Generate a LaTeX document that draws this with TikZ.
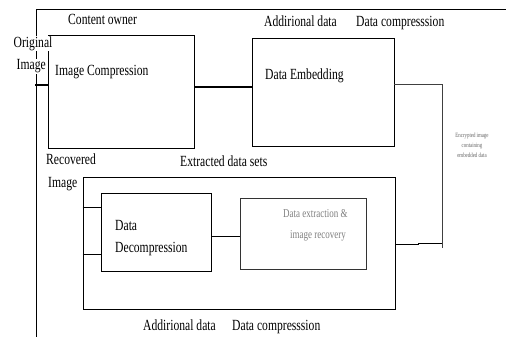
\documentclass[tikz,border=0pt]{standalone}
\usepackage{fontspec}
\setmainfont{Liberation Serif}[FakeStretch=0.75]
\usetikzlibrary{calc}
\begin{document}
\begin{tikzpicture}[x=1pt,y=-1pt,
  box/.style={draw=black,line width=0.8pt,inner sep=0pt,rectangle},
  lbl/.style={anchor=base west,inner sep=0pt,font=\fontsize{15.5}{17}\selectfont},
  glbl/.style={anchor=base west,inner sep=0pt,text=black!50,font=\fontsize{12}{14}\selectfont},
  tiny/.style={align=center,inner sep=0pt,text=black!60,font=\fontsize{6.5}{10}\selectfont},
  ln/.style={line width=0.8pt},
  thk/.style={line width=1.8pt}]
\useasboundingbox (0,0) rectangle (506,337);
\fill[white] (0,0) rectangle (506,337);
% outer frame
\coordinate (ftl) at (36,9);
\coordinate (ftr) at (506,9);
\coordinate (fbl) at (36,337);
\draw[ln] (ftr) -- (ftl) -- (fbl);
% boxes
\node[box,minimum width=146pt,minimum height=113pt] (b1) at (121,91.5) {};
\node[box,minimum width=142pt,minimum height=108pt] (b2) at (323,92) {};
\node[box,minimum width=312pt,minimum height=132pt] (ob) at (239,243) {};
\node[box,minimum width=110pt,minimum height=78pt] (dd) at (156,232) {};
\node[box,draw=black!80,minimum width=126pt,minimum height=71pt] (ex) at (303,233.5) {};
% labels
\node[lbl] (co) at (68,25) {Content owner};
\node[lbl,fill=white,inner sep=0.5pt] (orig) at (13,47.5) {Original};
\node[lbl,fill=white,inner sep=0.5pt] (oimg) at (16,70) {Image};
\node[lbl] (ic) at (55,75) {Image Compression};
\node[lbl] (de) at (265,80) {Data Embedding};
\node[lbl] (ad1) at (264,27) {Addirional data};
\node[lbl] (dc1) at (356,27) {Data compresssion};
\node[lbl] (rec) at (46,164) {Recovered};
\node[lbl] (rimg) at (48,187) {Image};
\node[lbl] (eds) at (180,166) {Extracted data sets};
\node[lbl] (dd1) at (115,230.5) {Data};
\node[lbl] (dd2) at (115,252.5) {Decompression};
\node[glbl] (ex1) at (283,217) {Data extraction \&};
\node[glbl] (ex2) at (290,238.5) {image recovery};
\node[lbl] (ad2) at (143,330) {Addirional data};
\node[lbl] (dc2) at (232,330) {Data compresssion};
\node[tiny] (enc) at (472,145) {Encrypted image\\containing\\embedded data};
% connectors
\coordinate (oi) at (35,85);
\draw[thk] (oi) -- (b1.west |- oi);
\coordinate (m1) at (0,87);
\draw[thk] (b1.east |- m1) -- (b2.west |- m1);
\coordinate (r1) at (442,84);
\coordinate (r2) at (442,248);
\draw[ln,draw=black!75] (b2.east |- r1) -- (r1) -- (r2);
\coordinate (r3) at (418,244);
\coordinate (r4) at (442,243);
\draw[ln] (ob.east |- r3) -- (r3) -- (r3 |- r4) -- (r4);
\coordinate (l1) at (0,207);
\coordinate (l2) at (0,254);
\draw[ln] (ob.west |- l1) -- (dd.west |- l1);
\draw[ln] (ob.west |- l2) -- (dd.west |- l2);
\coordinate (l3) at (0,236);
\draw[ln] (dd.east |- l3) -- (ex.west |- l3);
\end{tikzpicture}
\end{document}
